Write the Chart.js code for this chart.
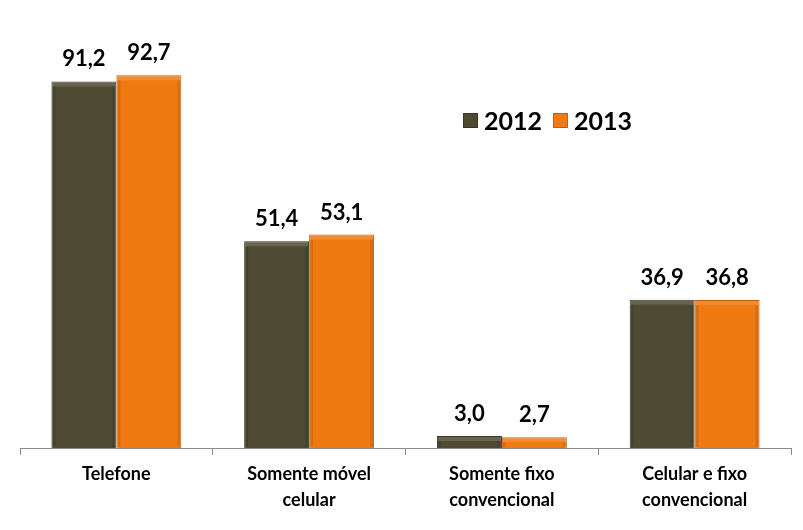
<!DOCTYPE html>
<html>
<head>
<meta charset="utf-8">
<script src="https://cdn.jsdelivr.net/npm/chart.js@4/dist/chart.umd.min.js"></script>
<style>
  html, body { margin: 0; padding: 0; background: #fff; }
  #wrap { width: 803px; height: 530px; }
</style>
</head>
<body>
<div id="wrap"><canvas id="chart" width="803" height="530"></canvas></div>
<script>
// categories and values
const categories = [
    ['Telefone'],
    ['Somente móvel', 'celular'],
    ['Somente fixo', 'convencional'],
    ['Celular e fixo', 'convencional']
];
const years = ['2012', '2013'];
const values2012 = [91.2, 51.4, 3.0, 36.9];
const values2013 = [92.7, 53.1, 2.7, 36.8];

const colors = ['#4f4a33', '#f07a12'];
const edgeColors = ['#3a3624', '#c8600a'];
const FONT = 'Lato, "Open Sans", sans-serif';

function fmt(v) {
    return v.toFixed(1).replace('.', ',');
}

// value labels + bevel look on each bar
const barExtras = {
    id: 'barExtras',
    afterDatasetsDraw(chart) {
        const ctx = chart.ctx;
        chart.data.datasets.forEach((ds, i) => {
            const meta = chart.getDatasetMeta(i);
            meta.data.forEach((bar, j) => {
                const left = bar.x - bar.width / 2;
                const top = bar.y;
                const h = bar.base - bar.y;
                ctx.save();
                ctx.fillStyle = 'rgba(255,255,255,0.14)';
                ctx.fillRect(left + 1, top + 1, bar.width - 2, Math.min(4, h - 1));
                ctx.fillStyle = 'rgba(0,0,0,0.10)';
                ctx.fillRect(left + 1, top + 5, 3, Math.max(0, h - 6));
                ctx.fillRect(left + bar.width - 4, top + 5, 3, Math.max(0, h - 6));
                ctx.restore();

                ctx.save();
                ctx.font = 'bold 22px ' + FONT;
                ctx.fillStyle = '#000';
                ctx.textAlign = 'center';
                ctx.textBaseline = 'bottom';
                ctx.fillText(fmt(ds.data[j]), bar.x, bar.y - 11);
                ctx.restore();
            });
        });
    }
};

// legend drawn inside the plot area
const innerLegend = {
    id: 'innerLegend',
    afterDraw(chart) {
        const ctx = chart.ctx;
        let x = 463;
        const y = 121;
        ctx.save();
        ctx.font = 'bold 25px ' + FONT;
        ctx.textBaseline = 'middle';
        chart.data.datasets.forEach((ds, i) => {
            ctx.fillStyle = ds.backgroundColor;
            ctx.fillRect(x, y - 8, 15, 15);
            ctx.strokeStyle = ds.borderColor;
            ctx.lineWidth = 1;
            ctx.strokeRect(x + 0.5, y - 7.5, 14, 14);
            ctx.fillStyle = '#000';
            ctx.textAlign = 'left';
            ctx.fillText(ds.label, x + 21, y + 1);
            x += 90;
        });
        ctx.restore();
    }
};

new Chart(document.getElementById('chart'), {
    type: 'bar',
    data: {
        labels: categories,
        datasets: [
            {
                label: years[0],
                data: values2012,
                backgroundColor: colors[0],
                borderColor: edgeColors[0],
                borderWidth: 1
            },
            {
                label: years[1],
                data: values2013,
                backgroundColor: colors[1],
                borderColor: edgeColors[1],
                borderWidth: 1
            }
        ]
    },
    options: {
        responsive: false,
        animation: false,
        layout: { padding: { left: 20, right: 12, top: 46, bottom: 0 } },
        plugins: {
            legend: { display: false },
            tooltip: { enabled: false }
        },
        datasets: {
            bar: { barPercentage: 1, categoryPercentage: 0.674 }
        },
        scales: {
            x: {
                offset: true,
                grid: {
                    offset: true,
                    drawOnChartArea: false,
                    drawTicks: true,
                    tickLength: 7,
                    color: '#8a8a8a'
                },
                border: { color: '#8a8a8a', width: 1 },
                ticks: {
                    color: '#000',
                    padding: 7,
                    maxRotation: 0,
                    autoSkip: false,
                    font: { family: FONT, size: 18, weight: 'bold', lineHeight: 1.4 }
                },
                afterFit(scale) { scale.height = 82; }
            },
            y: {
                display: false,
                min: 0,
                max: 100
            }
        }
    },
    plugins: [barExtras, innerLegend]
});
</script>
</body>
</html>
